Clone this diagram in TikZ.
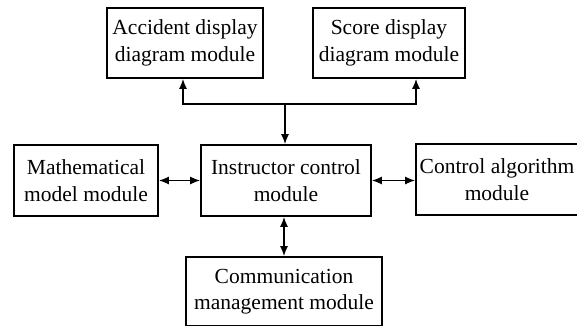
\documentclass[tikz,border=0pt]{standalone}
\usepackage{fontspec}
\setmainfont{Liberation Serif}
\newfontfamily\diagfont{Liberation Serif}
\usetikzlibrary{arrows.meta}
\begin{document}
\begin{tikzpicture}[x=1pt,y=-1pt,
  module/.style={draw, line width=1.6pt, align=center, inner sep=0pt,
    font=\diagfont\fontsize{21.5}{26.5}\selectfont},
  conn/.style={line width=1.6pt, arrows={-Latex[length=10pt,width=8pt]}},
  biconn/.style={line width=1.6pt, arrows={Latex[length=10pt,width=8pt]-Latex[length=10pt,width=8pt]}}]
\useasboundingbox (0,0) rectangle (577,325);
\clip (0,0) rectangle (577,325);
\node[module, minimum width=156pt, minimum height=70pt] (acc) at (185,43) {Accident display\\diagram module};
\node[module, minimum width=152pt, minimum height=70pt] (score) at (389,43) {Score display\\diagram module};
\node[module, minimum width=170pt, minimum height=71pt] (instr) at (286,180.5) {Instructor control\\module};
\node[module, minimum width=144pt, minimum height=71pt] (math) at (86,180.5) {Mathematical\\model module};
\node[module, minimum width=162pt, minimum height=71pt] (ctrl) at (497,179.5) {Control algorithm\\module};
\node[module, minimum width=196pt, minimum height=69pt] (comm) at (284,291.5) {Communication\\management module};
\coordinate (j) at (285,104);
\draw[conn] (j) -- (j |- instr.north);
\draw[conn] (j) -| ([xshift=-2pt]acc.south);
\draw[conn] (j) -| ([xshift=27pt]score.south);
\draw[biconn] (math.east) -- (math.east -| instr.west);
\draw[biconn] (instr.east) -- (instr.east -| ctrl.west);
\draw[biconn] (instr.south -| comm.north) -- (comm.north);
\end{tikzpicture}
\end{document}
